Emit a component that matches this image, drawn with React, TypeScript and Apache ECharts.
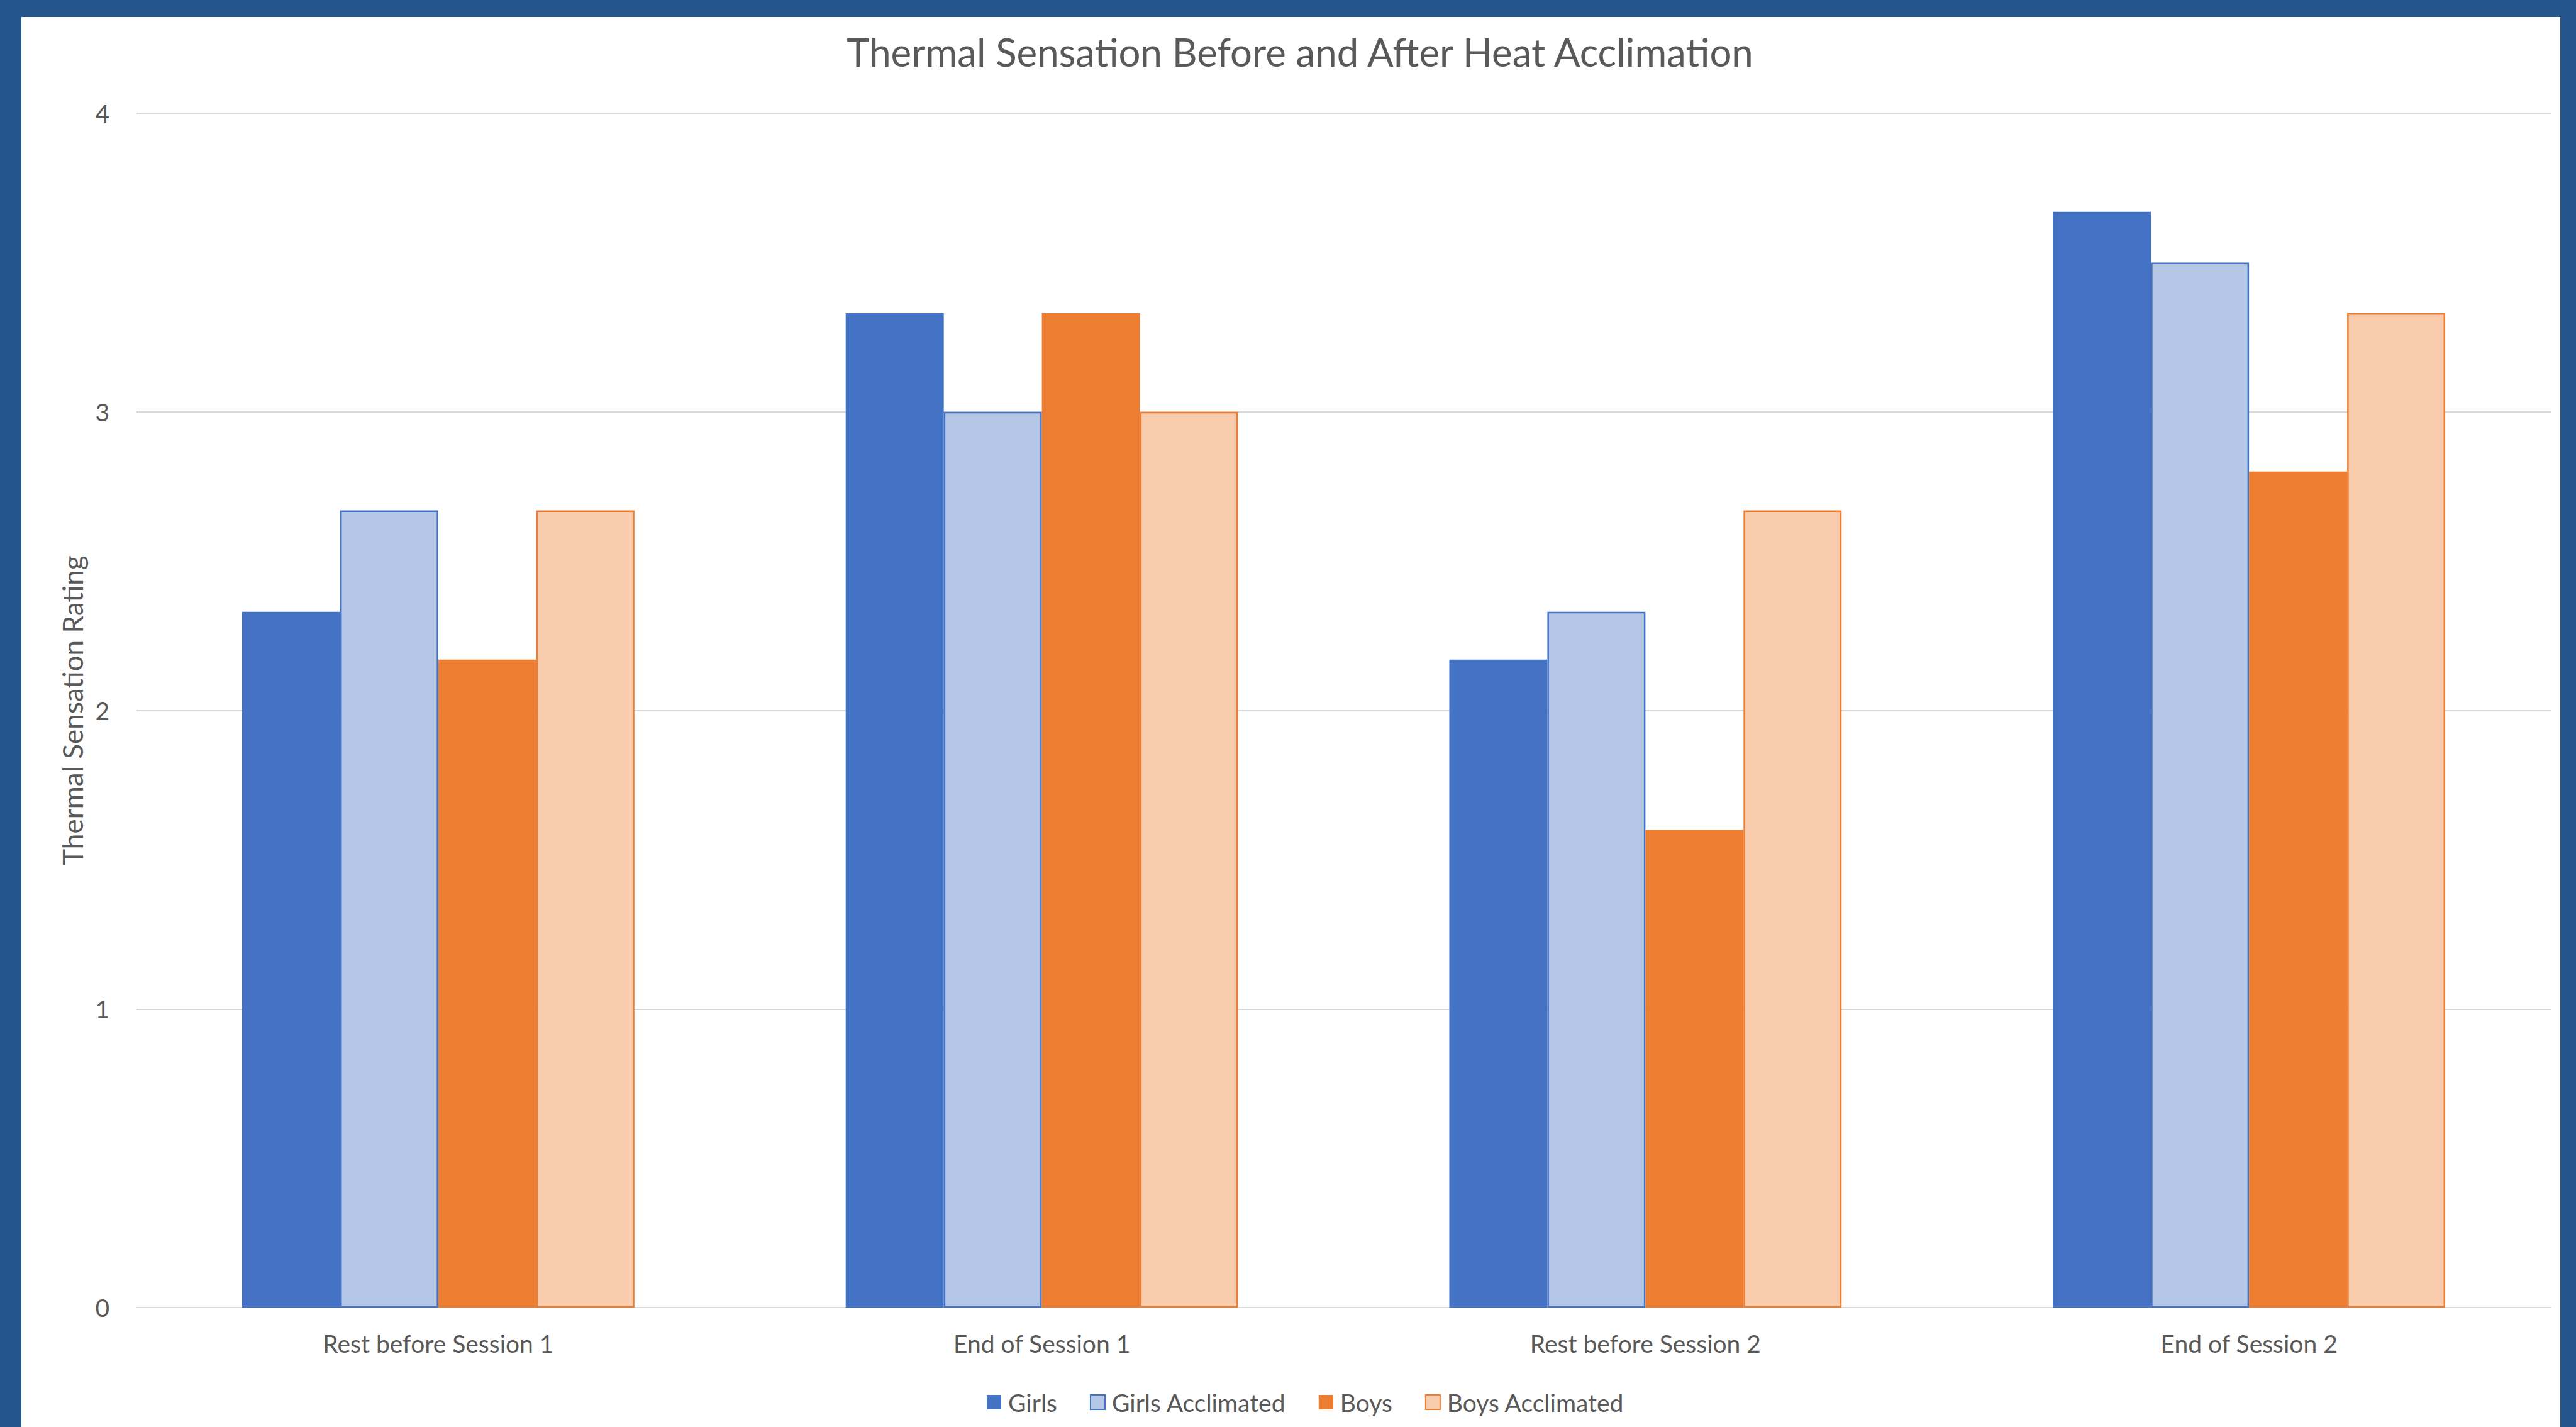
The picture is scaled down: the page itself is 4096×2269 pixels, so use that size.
import React, { useEffect, useRef } from "react";
import * as echarts from "echarts";

const categories = ["Rest before Session 1", "End of Session 1", "Rest before Session 2", "End of Session 2"];
const girls = [2.33, 3.33, 2.17, 3.67];
const girlsAcclimated = [2.67, 3.0, 2.33, 3.5];
const boys = [2.17, 3.33, 1.6, 2.8];
const boysAcclimated = [2.67, 3.0, 2.67, 3.33];
const yTicks = { min: 0, max: 4, interval: 1 };

const W = 4096;
const H = 2269;
const TEXT = "#595959";
const FONT = "Lato";

export default function App() {
  const ref = useRef<HTMLDivElement>(null);
  useEffect(() => {
    const chart = echarts.init(ref.current!, null, { renderer: "svg", width: W, height: H });
    const blue = "#4472C4";
    const orange = "#ED7D31";
    chart.setOption({
      animation: false,
      backgroundColor: "#ffffff",
      textStyle: { fontFamily: FONT },
      title: {
        text: "Thermal Sensation Before and After Heat Acclimation",
        left: 2062,
        textAlign: "center",
        top: 46,
        textStyle: { fontFamily: FONT, fontSize: 61.7, fontWeight: "normal", color: TEXT },
      },
      graphic: [
        { type: "rect", left: 0, top: 0, shape: { width: W, height: 27 }, style: { fill: "#25568B" }, silent: true },
        { type: "rect", left: 0, top: 0, shape: { width: 34, height: H }, style: { fill: "#25568B" }, silent: true },
        { type: "rect", left: 4071, top: 0, shape: { width: W - 4071, height: H }, style: { fill: "#25568B" }, silent: true },
      ],
      legend: {
        data: ["Girls", "Girls Acclimated", "Boys", "Boys Acclimated"],
        left: 1569,
        top: 2210,
        itemWidth: 23,
        itemHeight: 23,
        itemGap: 52,
        icon: "rect",
        padding: 0,
        textStyle: { fontFamily: FONT, fontSize: 39, color: TEXT, padding: [0, 0, 0, 6] },
      },
      grid: { left: 217, right: 40, top: 180, bottom: 190, containLabel: false },
      xAxis: {
        type: "category",
        data: categories,
        axisLine: { show: true, lineStyle: { color: "#D9D9D9", width: 2 } },
        axisTick: { show: false },
        axisLabel: { fontFamily: FONT, fontSize: 39, color: TEXT, margin: 37 },
        splitLine: { show: false },
      },
      yAxis: {
        type: "value",
        min: yTicks.min,
        max: yTicks.max,
        interval: yTicks.interval,
        name: "Thermal Sensation Rating",
        nameLocation: "middle",
        nameGap: 80,
        nameRotate: 90,
        nameTextStyle: { fontFamily: FONT, fontSize: 44, color: TEXT },
        axisLine: { show: false },
        axisTick: { show: false },
        axisLabel: { fontFamily: FONT, fontSize: 39, color: TEXT, margin: 43 },
        splitLine: { lineStyle: { color: "#D9D9D9", width: 2 } },
      },
      series: [
        {
          name: "Girls",
          type: "bar",
          data: girls,
          barGap: "0%",
          barCategoryGap: "35%",
          itemStyle: { color: blue },
        },
        {
          name: "Girls Acclimated",
          type: "bar",
          data: girlsAcclimated,
          itemStyle: { color: "#B4C7E7", borderColor: blue, borderWidth: 2.5 },
        },
        {
          name: "Boys",
          type: "bar",
          data: boys,
          itemStyle: { color: orange },
        },
        {
          name: "Boys Acclimated",
          type: "bar",
          data: boysAcclimated,
          itemStyle: { color: "#F8CBAD", borderColor: orange, borderWidth: 2.5 },
        },
      ],
    });
    return () => chart.dispose();
  }, []);
  return (
    <div
      ref={ref}
      style={{ position: "absolute", left: 0, top: 0, width: W, height: H, overflow: "hidden" }}
    />
  );
}
